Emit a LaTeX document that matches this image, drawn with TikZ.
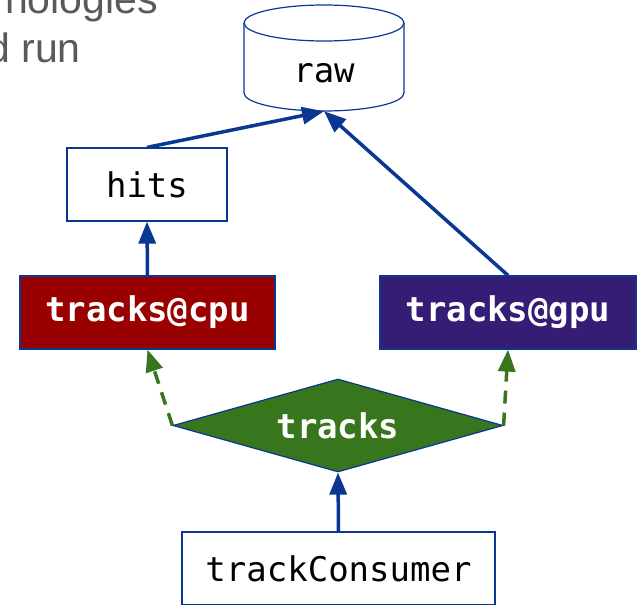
\documentclass[tikz,border=0pt]{standalone}
\usepackage{fontspec}
\setmainfont{Liberation Sans}
\setmonofont{DejaVu Sans Mono}
\usetikzlibrary{arrows.meta,shapes.geometric}
\definecolor{linkblue}{RGB}{10,55,145}
\definecolor{cpured}{RGB}{153,0,0}
\definecolor{gpupurple}{RGB}{53,28,117}
\definecolor{altgreen}{RGB}{56,118,29}
\definecolor{slidegray}{RGB}{89,89,89}
\begin{document}
\begin{tikzpicture}[x=1pt,y=-1pt,
  monotext/.style={font=\fontsize{34}{40}\selectfont\ttfamily},
  box/.style={monotext, draw=linkblue, line width=1.2pt, fill=white, inner sep=0pt, minimum height=73pt},
  darkbox/.style={box, text=white, font=\fontsize{34}{40}\selectfont\ttfamily\bfseries},
  dep/.style={draw=linkblue, line width=3.5pt, -{Triangle[width=17pt,length=22pt]}},
  altdep/.style={draw=altgreen, line width=3.5pt, dash pattern=on 13pt off 9pt, -{Triangle[width=17pt,length=22pt]}},
  slidetext/.style={font=\fontsize{41}{49}\selectfont, text=slidegray, inner sep=0pt, anchor=base east}
]
\useasboundingbox (0,0) rectangle (641,605);

% bits of slide text behind the graph
\node[slidetext] (line1) at (158,13) {nologies};
\node[slidetext] (line2) at (81,63) {d run};

% raw data store (cylinder)
\draw[linkblue, line width=1.2pt, fill=white]
  (244,23) -- (244,93) arc[start angle=180, end angle=0, x radius=80, y radius=18]
  -- (404,23) arc[start angle=0, end angle=-180, x radius=80, y radius=18] -- cycle;
\draw[linkblue, line width=1.2pt] (244,23) arc[start angle=180, end angle=0, x radius=80, y radius=18];
\node[monotext, inner sep=0pt, minimum width=160pt, minimum height=106pt] (raw) at (324,58) {};
\node[monotext, anchor=base] (rawlabel) at (324,82) {raw};

% product boxes
\node[box, minimum width=160pt] (hits) at (147,184.5) {hits};
\node[darkbox, fill=cpured, minimum width=255pt] (cpu) at (147.5,312.5) {tracks@cpu};
\node[darkbox, fill=gpupurple, minimum width=256pt] (gpu) at (508,312.5) {tracks@gpu};
\node[diamond, aspect=3.55, draw=linkblue, line width=1.2pt, fill=altgreen, text=white,
      font=\fontsize{34}{40}\selectfont\ttfamily\bfseries,
      inner sep=0pt, minimum width=330pt, minimum height=93pt] (tracks) at (338,425.5) {tracks};
\node[box, minimum width=313pt] (consumer) at (338.5,568.5) {trackConsumer};

% dependencies
\draw[dep] (hits.north) -- (raw.south);
\draw[dep] (gpu.north) -- (raw.south);
\draw[dep] (cpu.north) -- (hits.south);
\draw[dep] (consumer.north) -- (tracks.south);
\draw[altdep] (tracks.west) -- (cpu.south);
\draw[altdep] (tracks.east) -- (gpu.south);
\end{tikzpicture}
\end{document}
